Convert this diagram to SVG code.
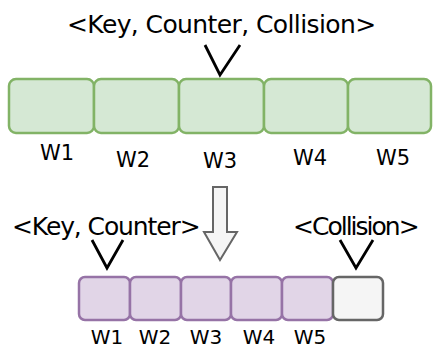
<svg xmlns="http://www.w3.org/2000/svg" width="433" height="352" viewBox="0 0 433 352">
<style>
text{font-family:"DejaVu Sans","Noto Sans",sans-serif;fill:#000}
.t{font-size:25px}
.w{font-size:21px;text-anchor:middle}
.ws{font-size:20px;text-anchor:middle}
.g{fill:#d5e8d4;stroke:#82b366;stroke-width:2.5}
.p{fill:#e1d5e7;stroke:#9673a6;stroke-width:2.5}
.n{fill:#f5f5f5;stroke:#666666;stroke-width:2.5}
.v{fill:none;stroke:#000;stroke-width:2.8}
</style>
<rect width="433" height="352" fill="#fff"/>
<g id="title"><text class="t" x="67" y="33" letter-spacing="-0.6">&lt;Key, Counter, Collision&gt;</text></g>
<g id="top-boxes">
<rect class="g" x="9" y="79" width="85" height="54" rx="7"/>
<rect class="g" x="94" y="79" width="85" height="54" rx="7"/>
<rect class="g" x="179" y="79" width="85" height="54" rx="7"/>
<rect class="g" x="264" y="79" width="84" height="54" rx="7"/>
<rect class="g" x="348" y="79" width="83" height="54" rx="7"/>
</g>
<g id="top-labels">
<text class="w" x="57" y="160">W1</text>
<text class="w" x="133" y="167">W2</text>
<text class="w" x="220" y="168">W3</text>
<text class="w" x="310" y="165">W4</text>
<text class="w" x="393" y="165">W5</text>
</g>
<g id="connectors">
<polyline class="v" points="205,45 220,75 240,45"/>
<polyline class="v" points="92,240 107,268 123,240"/>
<polyline class="v" points="340,240 356,268 373,240"/>
<path d="M213,187 H227 V232 H237 L220,260 L204,232 H213 Z" fill="#f5f5f5" stroke="#666666" stroke-width="2"/>
</g>
<g id="sub-labels">
<text class="t" x="12" y="235" letter-spacing="-1.1">&lt;Key, Counter&gt;</text>
<text class="t" x="293" y="235" letter-spacing="-2">&lt;Collision&gt;</text>
</g>
<g id="bottom-boxes">
<rect class="p" x="79" y="277" width="51" height="43" rx="6"/>
<rect class="p" x="130" y="277" width="51" height="43" rx="6"/>
<rect class="p" x="181" y="277" width="50" height="43" rx="6"/>
<rect class="p" x="231" y="277" width="51" height="43" rx="6"/>
<rect class="p" x="282" y="277" width="51" height="43" rx="6"/>
<rect class="n" x="333" y="277" width="50" height="43" rx="6"/>
</g>
<g id="bottom-labels">
<text class="ws" x="107" y="344">W1</text>
<text class="ws" x="155" y="344">W2</text>
<text class="ws" x="206" y="344">W3</text>
<text class="ws" x="259" y="344">W4</text>
<text class="ws" x="310" y="344">W5</text>
</g>
</svg>
